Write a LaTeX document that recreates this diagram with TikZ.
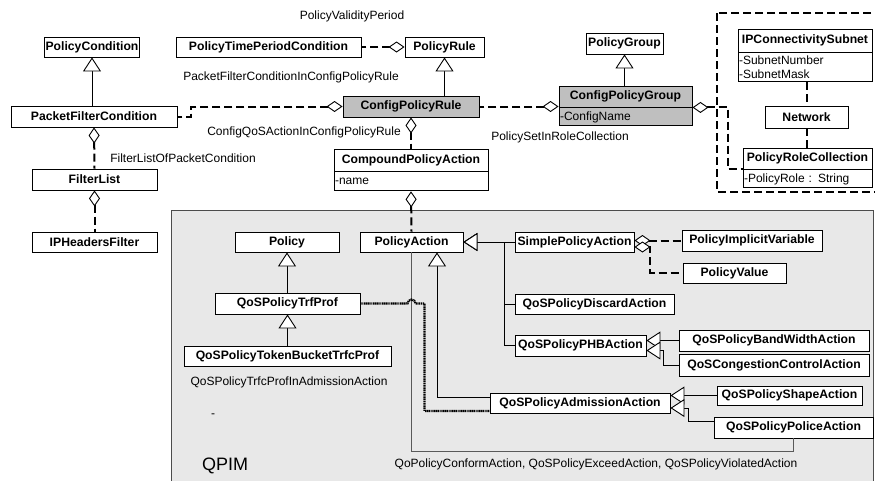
\documentclass[tikz,border=0pt]{standalone}
\usepackage{fontspec}
\setmainfont{Liberation Sans}
\usepackage{tikz}
\usetikzlibrary{arrows.meta,positioning,calc}

\begin{document}
\begin{tikzpicture}[x=1pt,y=-1pt,
	cls/.style={draw,line width=0.9pt,fill=white,font=\bfseries\fontsize{12.2}{14}\selectfont,inner sep=1pt,minimum height=20},
	clsgrey/.style={cls,fill=black!25},
	attr/.style={draw,line width=0.9pt,fill=white,font=\fontsize{12}{14}\selectfont,align=left,inner xsep=1pt,inner ysep=1pt,text width=#1},
	lbl/.style={font=\fontsize{12}{14}\selectfont,inner sep=0pt},
	gen/.style={line width=0.9pt,-{Triangle[fill=white,line width=0.9pt,length=14pt,width=18pt]}},
	agg/.style={line width=2pt,dash pattern=on 8pt off 4pt,{Diamond[fill=white,line width=0.9pt,length=16pt,width=11pt]}-},
	dsh/.style={line width=2pt,dash pattern=on 8pt off 4pt},
	assoc/.style={draw=black!65,line width=0.8pt},
	dotl/.style={line width=2.2pt,dash pattern=on 1.2pt off 0.6pt}]
%		\draw [help lines,step=50] (0,0) grid (875,480);
		\useasboundingbox (0,0) rectangle (875,480);
		%QPIM area
		\draw [draw=black!70,fill=black!9,line width=0.8pt] (171,210) rectangle (873,484);
		%Network group
		\draw [dsh] (717,13) rectangle (879,192);
		%Conditions and rules
		\node [cls,minimum width=92] (pc) at (92,47) {PolicyCondition};
		\node [cls,minimum width=185] (ptpc) at (268.5,47) {PolicyTimePeriodCondition};
		\node [cls,minimum width=79] (pr) at (444.5,47) {PolicyRule};
		\node [cls,minimum width=166,minimum height=21] (pfc) at (94,116.5) {PacketFilterCondition};
		\node [clsgrey,minimum width=136,minimum height=21] (cpr) at (411,106.5) {ConfigPolicyRule};
		\node [cls,minimum width=125,minimum height=21] (fl) at (94.5,179.5) {FilterList};
		\node [cls,minimum width=125] (iphf) at (94.5,242) {IPHeadersFilter};
		\node [cls,minimum width=154,minimum height=22] (cpa) at (411,160) {CompoundPolicyAction};
		\node [attr=152,minimum height=19,below=0pt of cpa] (cpaA) {-name};
		%Groups
		\node [cls,minimum width=77,minimum height=21] (pg) at (624.5,43.5) {PolicyGroup};
		\node [clsgrey,minimum width=133,minimum height=21] (cpg) at (625.5,96.5) {ConfigPolicyGroup};
		\node [attr=131,minimum height=18,fill=black!25,below=0pt of cpg] (cpgA) {-ConfigName};
		\node [cls,minimum width=134,minimum height=23] (ipcs) at (805,40.5) {IPConnectivitySubnet};
		\node [attr=132,minimum height=29,below=0pt of ipcs] (ipcsA) {-SubnetNumber\\-SubnetMask};
		\node [cls,minimum width=83,minimum height=22] (net) at (806.5,117) {Network};
		\node [cls,minimum width=129,minimum height=21] (prc) at (807.5,158.5) {PolicyRoleCollection};
		\node [attr=127,minimum height=18,below=0pt of prc] (prcA) {-PolicyRole : String};
		%Actions
		\node [cls,minimum width=104] (pol) at (287,242) {Policy};
		\node [cls,minimum width=103] (pa) at (411.5,242) {PolicyAction};
		\node [cls,minimum width=119] (spa) at (574.5,242) {SimplePolicyAction};
		\node [cls,minimum width=140,minimum height=21] (piv) at (752,240.5) {PolicyImplicitVariable};
		\node [cls,minimum width=103] (pv) at (734.5,273) {PolicyValue};
		\node [cls,minimum width=159] (qda) at (594.5,304) {QoSPolicyDiscardAction};
		\node [cls,minimum width=131,minimum height=21] (phb) at (580.5,345.5) {QoSPolicyPHBAction};
		\node [cls,minimum width=190,minimum height=21] (qbw) at (774,340.5) {QoSPolicyBandWidthAction};
		\node [cls,minimum width=190,minimum height=22] (qcc) at (774,365) {QoSCongestionControlAction};
		\node [cls,minimum width=145,minimum height=21] (trp) at (287.5,303.5) {QoSPolicyTrfProf};
		\node [cls,minimum width=207] (tbp) at (287.5,356) {QoSPolicyTokenBucketTrfcProf};
		\node [cls,minimum width=180] (adm) at (580,403) {QoSPolicyAdmissionAction};
		\node [cls,minimum width=145,minimum height=19] (qsa) at (789.5,395.5) {QoSPolicyShapeAction};
		\node [cls,minimum width=159,minimum height=21] (qpa) at (793.5,427.5) {QoSPolicyPoliceAction};
		%Labels
		\node [lbl] (lvp) at (352,16) {PolicyValidityPeriod};
		\node [lbl] (lpfc) at (291,77) {PacketFilterConditionInConfigPolicyRule};
		\node [lbl] (lqos) at (304,132) {ConfigQoSActionInConfigPolicyRule};
		\node [lbl] (lpsr) at (560,137) {PolicySetInRoleCollection};
		\node [lbl] (lflp) at (183,158) {FilterListOfPacketCondition};
		\node [lbl] (ltrf) at (289,382) {QoSPolicyTrfcProfInAdmissionAction};
		\node [lbl] (ldash) at (213,416) {-};
		\node [font=\fontsize{18}{20}\selectfont,inner sep=0pt] (qpim) at (225,466) {QPIM};
		\node [lbl] (lconf) at (596,464) {QoPolicyConformAction, QoSPolicyExceedAction, QoSPolicyViolatedAction};
		%Inheritance
		\draw [gen] (pfc.north -| pc.south) -- (pc.south);
		\draw [gen] (cpr.north -| pr.south) -- (pr.south);
		\draw [gen] (cpg.north -| pg.south) -- (pg.south);
		\draw [gen] (trp.north -| pol.south) -- (pol.south);
		\draw [gen] (tbp.north) -- (trp.south);
		\draw [gen] (spa.west) -- (pa.east);
		\draw [gen] (qda.west) -- ++(-10,0) |- (pa.east);
		\draw [gen] (phb.west) -- ++(-10,0) |- (pa.east);
		\draw [gen] (qbw.west) -- (qbw.west -| phb.east);
		\draw [gen] (qcc.west) -| ([xshift=17pt,yshift=-5pt]phb.east) -- ([yshift=-5pt]phb.east);
		\draw [gen] (qsa.west) -- (qsa.west -| adm.east);
		\draw [gen] ([yshift=6pt]qpa.west) -| ([xshift=18pt,yshift=-5pt]adm.east) -- ([yshift=-5pt]adm.east);
		\draw [gen] ([yshift=6pt]adm.west) -| ([xshift=25.5pt]pa.south);
		%Aggregations
		\draw [agg] (pr.west) -- (ptpc.east);
		\draw [agg] (cpr.west) -| ([xshift=14pt]pfc.east) -- (pfc.east);
		\draw [agg] (cpr.south) -- (cpa.north);
		\draw [agg] (cpr.east -| cpg.west) -- (cpr.east);
		\draw [agg] (cpg.south east) -- ++(36,0) |- (prcA.north west);
		\draw [agg] (pfc.south) -- (fl.north);
		\draw [agg] (fl.south) -- (iphf.north);
		\draw [agg] (cpaA.south) -- (pa.north);
		\draw [agg] (piv.west -| spa.east) -- (piv.west);
		\draw [agg] ([yshift=-5pt]spa.east) -- ++(16,0) |- (pv.west);
		\draw [dsh] (ipcsA.south -| net.north) -- (net.north);
		\draw [dsh] (net.south) -- (net.south |- prc.north);
		%Associations
		\draw [assoc] (pa.south) -- ++(0,199) -| (qpa.south);
		\draw [dotl] (trp.east) -- ([xshift=-4pt]trp.east -| pa.south) arc [start angle=180,end angle=360,radius=4] -| ([xshift=-65pt,yshift=-8pt]adm.west) -- ([yshift=-8pt]adm.west);
\end{tikzpicture}
\end{document}
